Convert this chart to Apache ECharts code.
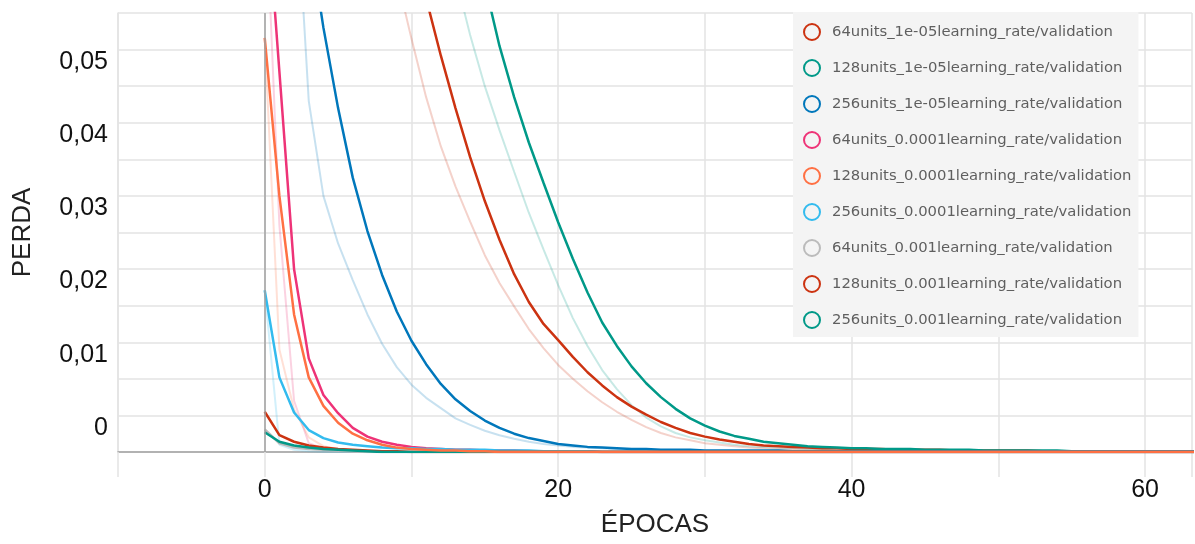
<!DOCTYPE html>
<html>
<head>
<meta charset="utf-8">
<script src="https://cdn.jsdelivr.net/npm/echarts/dist/echarts.min.js"></script>
<style>
  html, body { margin: 0; padding: 0; background: #fff; }
  #chart { width: 1195px; height: 544px; }
</style>
</head>
<body>
<div id="chart"></div>
<script>
// épocas 0..64
const epochs = [0,1,2,3,4,5,6,7,8,9,10,11,12,13,14,15,16,17,18,19,20,21,22,23,24,25,26,27,28,29,30,
  31,32,33,34,35,36,37,38,39,40,41,42,43,44,45,46,47,48,49,50,51,52,53,54,55,56,57,58,59,60,61,62,63,64];

// curvas suavizadas (linha forte)
const u64_1e5 = [0.280,0.240,0.210,0.182,0.158,0.137,0.119,0.103,0.089,0.077,0.066,
  0.057,0.0492,0.0420,0.0353,0.0293,0.0240,0.0193,0.0155,0.0125,0.0103,
  0.0080,0.0059,0.0041,0.0025,0.0012,0.0001,-0.0009,-0.0017,-0.0024,-0.0029,
  -0.0033,-0.0036,-0.0039,-0.0041,-0.0042,-0.0043,-0.0044,-0.0045,-0.0045,-0.0046,
  -0.0046,-0.0046,-0.0047,-0.0047,-0.0047,-0.0047,-0.0048,-0.0048,-0.0048,-0.0048,
  -0.0048,-0.0048,-0.0049,-0.0049,-0.0049,-0.0049,-0.0049,-0.0049,-0.0049,-0.0049,
  -0.0049,-0.0049,-0.0049,-0.0049];
const u128_1e5 = [0.380,0.350,0.320,0.290,0.260,0.233,0.207,0.183,0.161,0.141,0.123,
  0.107,0.093,0.080,0.069,0.059,0.0505,0.0435,0.0373,0.0318,0.0264,
  0.0214,0.0168,0.0127,0.0095,0.0067,0.0044,0.0025,0.0009,-0.0004,-0.0014,
  -0.0022,-0.0028,-0.0032,-0.0036,-0.0038,-0.0040,-0.0042,-0.0043,-0.0044,-0.0045,
  -0.0045,-0.0046,-0.0046,-0.0046,-0.0047,-0.0047,-0.0047,-0.0047,-0.0048,-0.0048,
  -0.0048,-0.0048,-0.0048,-0.0048,-0.0049,-0.0049,-0.0049,-0.0049,-0.0049,-0.0049,
  -0.0049,-0.0049,-0.0049,-0.0049];
const u256_1e5 = [0.130,0.105,0.083,0.066,0.053,0.042,0.0325,0.0252,0.0192,0.0142,0.0102,
  0.0070,0.0043,0.0022,0.0006,-0.0007,-0.0017,-0.0025,-0.0031,-0.0035,-0.0039,
  -0.0041,-0.0043,-0.0044,-0.0045,-0.0046,-0.0046,-0.0047,-0.0047,-0.0047,-0.0048,
  -0.0048,-0.0048,-0.0048,-0.0048,-0.0048,-0.0049,-0.0049,-0.0049,-0.0049,-0.0049,
  -0.0049,-0.0049,-0.0049,-0.0049,-0.0049,-0.0049,-0.0049,-0.0049,-0.0049,-0.0049,
  -0.0049,-0.0049,-0.0049,-0.0049,-0.0049,-0.0049,-0.0049,-0.0049,-0.0049,-0.0049,
  -0.0049,-0.0049,-0.0049,-0.0049];
const u64_1e4 = [0.074,0.047,0.0200,0.0078,0.0028,0.0003,-0.0017,-0.0029,-0.0036,-0.0040,-0.0043,
  -0.0045,-0.0046,-0.0047,-0.0047,-0.0048,-0.0048,-0.0048,-0.0049,-0.0049,-0.0049,
  -0.0049,-0.0049,-0.0050,-0.0050,-0.0050,-0.0050,-0.0050,-0.0050,-0.0050,-0.0050,
  -0.0050,-0.0050,-0.0050,-0.0050,-0.0050,-0.0050,-0.0050,-0.0050,-0.0050,-0.0050,
  -0.0050,-0.0050,-0.0050,-0.0050,-0.0050,-0.0050,-0.0050,-0.0050,-0.0050,-0.0050,
  -0.0050,-0.0050,-0.0050,-0.0050,-0.0050,-0.0050,-0.0050,-0.0050,-0.0050,-0.0050,
  -0.0050,-0.0050,-0.0050,-0.0050];
const u128_1e4 = [0.0516,0.0300,0.0138,0.0052,0.0013,-0.0010,-0.0025,-0.0034,-0.0040,-0.0044,-0.0046,
  -0.0047,-0.0048,-0.0048,-0.0049,-0.0049,-0.0050,-0.0050,-0.0050,-0.0050,-0.0050,
  -0.0050,-0.0050,-0.0050,-0.0050,-0.0050,-0.0050,-0.0050,-0.0050,-0.0050,-0.0050,
  -0.0050,-0.0050,-0.0050,-0.0050,-0.0050,-0.0050,-0.0050,-0.0050,-0.0050,-0.0050,
  -0.0050,-0.0050,-0.0050,-0.0050,-0.0050,-0.0050,-0.0050,-0.0050,-0.0050,-0.0050,
  -0.0050,-0.0050,-0.0050,-0.0050,-0.0050,-0.0050,-0.0050,-0.0050,-0.0050,-0.0050,
  -0.0050,-0.0050,-0.0050,-0.0050];
const u256_1e4 = [0.0171,0.0052,0.0004,-0.0020,-0.0031,-0.0037,-0.0040,-0.0042,-0.0044,-0.0045,-0.0045,
  -0.0046,-0.0046,-0.0047,-0.0047,-0.0047,-0.0048,-0.0048,-0.0048,-0.0049,-0.0049,
  -0.0049,-0.0049,-0.0050,-0.0050,-0.0050,-0.0050,-0.0050,-0.0050,-0.0050,-0.0050,
  -0.0050,-0.0050,-0.0050,-0.0050,-0.0050,-0.0050,-0.0050,-0.0050,-0.0050,-0.0050,
  -0.0050,-0.0050,-0.0050,-0.0050,-0.0050,-0.0050,-0.0050,-0.0050,-0.0050,-0.0050,
  -0.0050,-0.0050,-0.0050,-0.0050,-0.0050,-0.0050,-0.0050,-0.0050,-0.0050,-0.0050,
  -0.0050,-0.0050,-0.0050,-0.0050];
const u64_1e3 = [-0.0019,-0.0038,-0.0044,-0.0046,-0.0047,-0.0048,-0.0049,-0.0050,-0.0050,-0.0050,-0.0050,
  -0.0050,-0.0050,-0.0050,-0.0050,-0.0050,-0.0050,-0.0050,-0.0050,-0.0050,-0.0050,
  -0.0050,-0.0050,-0.0050,-0.0050,-0.0050,-0.0050,-0.0050,-0.0050,-0.0050,-0.0050,
  -0.0050,-0.0050,-0.0050,-0.0050,-0.0050,-0.0050,-0.0050,-0.0050,-0.0050,-0.0050,
  -0.0050,-0.0050,-0.0050,-0.0050,-0.0050,-0.0050,-0.0050,-0.0050,-0.0050,-0.0050,
  -0.0050,-0.0050,-0.0050,-0.0050,-0.0050,-0.0050,-0.0050,-0.0050,-0.0050,-0.0050,
  -0.0050,-0.0050,-0.0050,-0.0050];
const u128_1e3 = [0.0005,-0.0027,-0.0036,-0.0041,-0.0044,-0.0046,-0.0047,-0.0048,-0.0049,-0.0049,-0.0050,
  -0.0050,-0.0050,-0.0050,-0.0050,-0.0050,-0.0050,-0.0050,-0.0050,-0.0050,-0.0050,
  -0.0050,-0.0050,-0.0050,-0.0050,-0.0050,-0.0050,-0.0050,-0.0050,-0.0050,-0.0050,
  -0.0050,-0.0050,-0.0050,-0.0050,-0.0050,-0.0050,-0.0050,-0.0050,-0.0050,-0.0050,
  -0.0050,-0.0050,-0.0050,-0.0050,-0.0050,-0.0050,-0.0050,-0.0050,-0.0050,-0.0050,
  -0.0050,-0.0050,-0.0050,-0.0050,-0.0050,-0.0050,-0.0050,-0.0050,-0.0050,-0.0050,
  -0.0050,-0.0050,-0.0050,-0.0050];
const u256_1e3 = [-0.0023,-0.0036,-0.0041,-0.0044,-0.0046,-0.0047,-0.0048,-0.0049,-0.0050,-0.0050,-0.0050,
  -0.0050,-0.0050,-0.0050,-0.0050,-0.0050,-0.0050,-0.0050,-0.0050,-0.0050,-0.0050,
  -0.0050,-0.0050,-0.0050,-0.0050,-0.0050,-0.0050,-0.0050,-0.0050,-0.0050,-0.0050,
  -0.0050,-0.0050,-0.0050,-0.0050,-0.0050,-0.0050,-0.0050,-0.0050,-0.0050,-0.0050,
  -0.0050,-0.0050,-0.0050,-0.0050,-0.0050,-0.0050,-0.0050,-0.0050,-0.0050,-0.0050,
  -0.0050,-0.0050,-0.0050,-0.0050,-0.0050,-0.0050,-0.0050,-0.0050,-0.0050,-0.0050,
  -0.0050,-0.0050,-0.0050,-0.0050];

// valores brutos (linha clara, sem suavização)
const u64_1e5_raw = [0.250,0.210,0.180,0.155,0.133,0.114,0.097,0.083,0.071,0.060,0.0515,
  0.0435,0.0368,0.0313,0.0265,0.0219,0.0181,0.0149,0.0118,0.0092,0.0069,
  0.0050,0.0033,0.0018,0.0005,-0.0006,-0.0016,-0.0024,-0.0030,-0.0034,-0.0038,
  -0.0040,-0.0042,-0.0044,-0.0045,-0.0046,-0.0046,-0.0047,-0.0047,-0.0048,-0.0048,
  -0.0048,-0.0048,-0.0048,-0.0049,-0.0049,-0.0049,-0.0049,-0.0049,-0.0049,-0.0049,
  -0.0049,-0.0049,-0.0049,-0.0049,-0.0049,-0.0049,-0.0049,-0.0049,-0.0049,-0.0049,
  -0.0049,-0.0049,-0.0049,-0.0049];
const u128_1e5_raw = [0.290,0.260,0.235,0.210,0.188,0.167,0.148,0.131,0.116,0.102,0.090,
  0.079,0.069,0.060,0.0520,0.0450,0.0390,0.0333,0.0277,0.0227,0.0178,
  0.0133,0.0095,0.0062,0.0036,0.0014,-0.0003,-0.0015,-0.0024,-0.0030,-0.0034,
  -0.0037,-0.0040,-0.0042,-0.0043,-0.0044,-0.0045,-0.0046,-0.0046,-0.0047,-0.0047,
  -0.0047,-0.0048,-0.0048,-0.0048,-0.0048,-0.0048,-0.0049,-0.0049,-0.0049,-0.0049,
  -0.0049,-0.0049,-0.0049,-0.0049,-0.0049,-0.0049,-0.0049,-0.0049,-0.0049,-0.0049,
  -0.0049,-0.0049,-0.0049,-0.0049];
const u256_1e5_raw = [0.200,0.140,0.077,0.043,0.030,0.0235,0.0185,0.0138,0.0098,0.0066,0.0042,
  0.0024,0.0010,-0.0004,-0.0013,-0.0021,-0.0027,-0.0032,-0.0036,-0.0039,-0.0041,
  -0.0043,-0.0044,-0.0045,-0.0046,-0.0047,-0.0047,-0.0048,-0.0048,-0.0048,-0.0049,
  -0.0049,-0.0049,-0.0049,-0.0049,-0.0049,-0.0049,-0.0049,-0.0049,-0.0049,-0.0049,
  -0.0049,-0.0049,-0.0049,-0.0049,-0.0049,-0.0049,-0.0049,-0.0049,-0.0049,-0.0049,
  -0.0049,-0.0049,-0.0049,-0.0049,-0.0049,-0.0049,-0.0049,-0.0049,-0.0049,-0.0049,
  -0.0049,-0.0049,-0.0049,-0.0049];
const u64_1e4_raw = [0.074,0.026,0.0020,-0.0038,-0.0045,-0.0048,-0.0049,-0.0050,-0.0050,-0.0050,-0.0050,
  -0.0050,-0.0050,-0.0050,-0.0050,-0.0050,-0.0050,-0.0050,-0.0050,-0.0050,-0.0050,
  -0.0050,-0.0050,-0.0050,-0.0050,-0.0050,-0.0050,-0.0050,-0.0050,-0.0050,-0.0050,
  -0.0050,-0.0050,-0.0050,-0.0050,-0.0050,-0.0050,-0.0050,-0.0050,-0.0050,-0.0050,
  -0.0050,-0.0050,-0.0050,-0.0050,-0.0050,-0.0050,-0.0050,-0.0050,-0.0050,-0.0050,
  -0.0050,-0.0050,-0.0050,-0.0050,-0.0050,-0.0050,-0.0050,-0.0050,-0.0050,-0.0050,
  -0.0050,-0.0050,-0.0050,-0.0050];
const u128_1e4_raw = [0.0516,0.0090,0.0008,-0.0030,-0.0042,-0.0046,-0.0048,-0.0049,-0.0050,-0.0050,-0.0050,
  -0.0050,-0.0050,-0.0050,-0.0050,-0.0050,-0.0050,-0.0050,-0.0050,-0.0050,-0.0050,
  -0.0050,-0.0050,-0.0050,-0.0050,-0.0050,-0.0050,-0.0050,-0.0050,-0.0050,-0.0050,
  -0.0050,-0.0050,-0.0050,-0.0050,-0.0050,-0.0050,-0.0050,-0.0050,-0.0050,-0.0050,
  -0.0050,-0.0050,-0.0050,-0.0050,-0.0050,-0.0050,-0.0050,-0.0050,-0.0050,-0.0050,
  -0.0050,-0.0050,-0.0050,-0.0050,-0.0050,-0.0050,-0.0050,-0.0050,-0.0050,-0.0050,
  -0.0050,-0.0050,-0.0050,-0.0050];
const u256_1e4_raw = [0.0171,-0.0040,-0.0047,-0.0049,-0.0050,-0.0050,-0.0050,-0.0050,-0.0050,-0.0050,-0.0050,
  -0.0050,-0.0050,-0.0050,-0.0050,-0.0050,-0.0050,-0.0050,-0.0050,-0.0050,-0.0050,
  -0.0050,-0.0050,-0.0050,-0.0050,-0.0050,-0.0050,-0.0050,-0.0050,-0.0050,-0.0050,
  -0.0050,-0.0050,-0.0050,-0.0050,-0.0050,-0.0050,-0.0050,-0.0050,-0.0050,-0.0050,
  -0.0050,-0.0050,-0.0050,-0.0050,-0.0050,-0.0050,-0.0050,-0.0050,-0.0050,-0.0050,
  -0.0050,-0.0050,-0.0050,-0.0050,-0.0050,-0.0050,-0.0050,-0.0050,-0.0050,-0.0050,
  -0.0050,-0.0050,-0.0050,-0.0050];

const names = [
  '64units_1e-05learning_rate/validation',
  '128units_1e-05learning_rate/validation',
  '256units_1e-05learning_rate/validation',
  '64units_0.0001learning_rate/validation',
  '128units_0.0001learning_rate/validation',
  '256units_0.0001learning_rate/validation',
  '64units_0.001learning_rate/validation',
  '128units_0.001learning_rate/validation',
  '256units_0.001learning_rate/validation'
];
const colors = ['#cc3311','#009988','#0077bb','#ee3377','#ff7043','#33bbee','#bbbbbb','#cc3311','#009988'];
const smoothed = [u64_1e5,u128_1e5,u256_1e5,u64_1e4,u128_1e4,u256_1e4,u64_1e3,u128_1e3,u256_1e3];
const raw = [u64_1e5_raw,u128_1e5_raw,u256_1e5_raw,u64_1e4_raw,u128_1e4_raw,u256_1e4_raw,null,null,null];

function mkLine(name, values, color, faded){
  return {
    name: name,
    type: 'line',
    data: values.map((v,i)=>[epochs[i], v]),
    symbol: 'none',
    showSymbol: false,
    silent: true,
    clip: true,
    z: faded ? 1 : 2,
    itemStyle: { color: color },
    lineStyle: { color: color, width: faded ? 2 : 2.5, opacity: faded ? 0.22 : 1 }
  };
}

let series = [];
for (let i = 0; i < names.length; i++) {
  series.push(mkLine(names[i], smoothed[i], colors[i], false));
}
for (let i = 0; i < names.length; i++) {
  if (raw[i]) series.push(mkLine(names[i], raw[i], colors[i], true));
}
// a laranja fica por cima na linha de base, como no original
series[4].z = 3;
// linha vertical do zero
series[0].markLine = {
  silent: true, symbol: 'none', animation: false,
  label: { show: false },
  lineStyle: { color: '#a0a0a0', width: 1.5, type: 'solid' },
  data: [{ xAxis: 0 }]
};

const chart = echarts.init(document.getElementById('chart'));
chart.setOption({
  animation: false,
  backgroundColor: '#fff',
  textStyle: { fontFamily: '"Liberation Sans", Arial, sans-serif' },
  grid: { left: 118, right: 0, top: 13, bottom: 92, containLabel: false },
  legend: {
    data: names.map((n, i) => ({
      name: n,
      icon: 'circle',
      itemStyle: { color: '#f4f4f4', borderColor: colors[i], borderWidth: 2 },
      lineStyle: { color: 'rgba(0,0,0,0)', width: 0 }
    })),
    orient: 'vertical',
    left: 793, top: 12,
    padding: [11, 7, 8, 10],
    backgroundColor: '#f4f4f4',
    itemWidth: 16, itemHeight: 16, itemGap: 18,
    textStyle: { fontFamily: '"DejaVu Sans", sans-serif', fontSize: 14.8, color: '#5f5f5f', padding: [0, 0, 0, 7] },
    selectedMode: false
  },
  xAxis: {
    type: 'value', min: -10, max: 63.2, interval: 10,
    name: 'ÉPOCAS', nameLocation: 'middle', nameGap: 60,
    nameTextStyle: { fontSize: 26, color: '#222' },
    axisLine: { show: true, onZero: false, lineStyle: { color: '#a0a0a0', width: 1.5 } },
    axisTick: { show: true, length: 25, lineStyle: { color: '#e3e3e3', width: 1.5 } },
    axisLabel: {
      margin: 26, fontSize: 25, color: '#111',
      formatter: v => (v % 20 === 0 ? String(v) : '')
    },
    splitLine: { show: true, lineStyle: { color: '#e3e3e3', width: 1.5 } }
  },
  yAxis: {
    type: 'value', min: -0.005, max: 0.055, interval: 0.005,
    name: 'PERDA', nameLocation: 'middle', nameGap: 82,
    nameTextStyle: { fontSize: 26, color: '#222' },
    axisLine: { show: true, onZero: false, lineStyle: { color: '#e3e3e3', width: 1.5 } },
    axisTick: { show: false },
    axisLabel: {
      margin: 10, fontSize: 25, color: '#111', verticalAlign: 'top',
      formatter: function(v){
        const r = Math.round(v * 1000);
        if (r < 0 || r % 10 !== 0) return '';
        return r === 0 ? '0' : (r / 1000).toFixed(2).replace('.', ',');
      }
    },
    splitLine: { show: true, lineStyle: { color: '#e3e3e3', width: 1.5 } }
  },
  series: series
});
</script>
</body>
</html>
